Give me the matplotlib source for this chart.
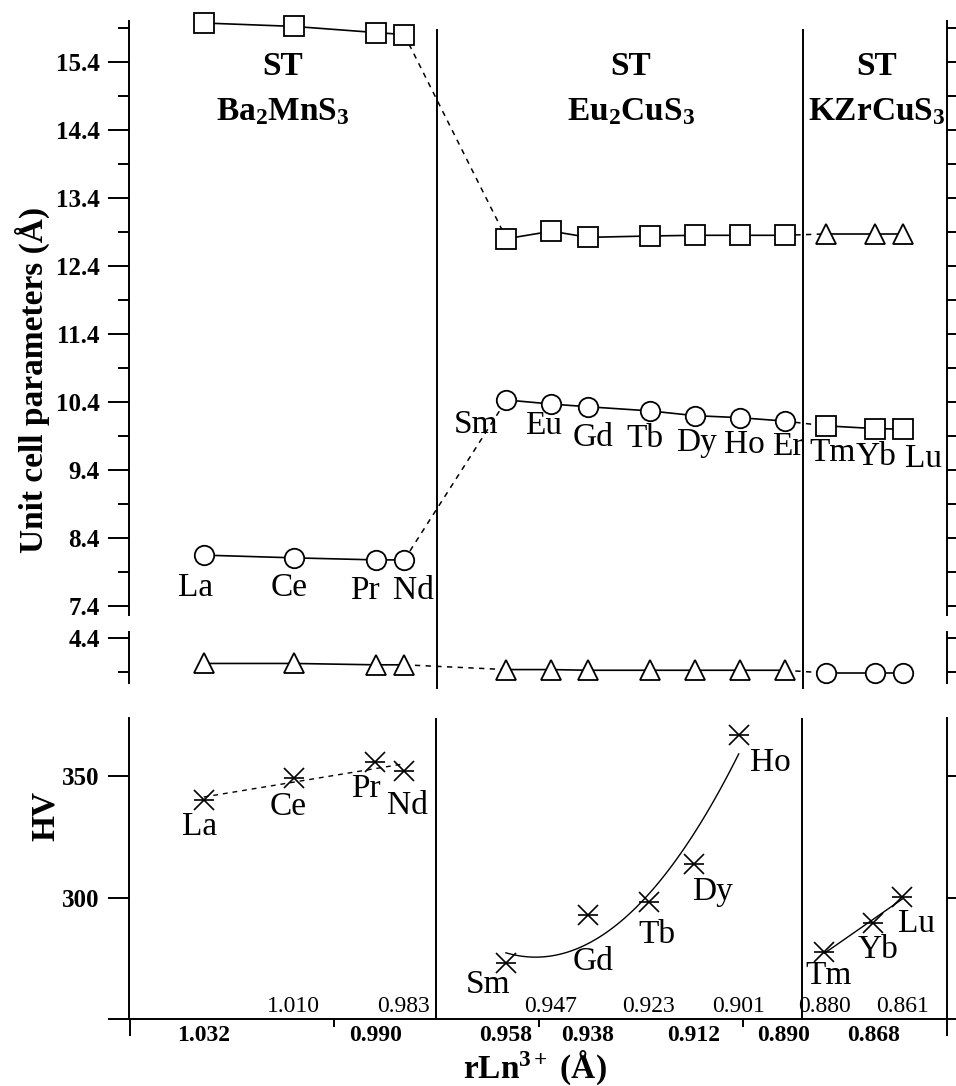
import numpy as np
import matplotlib.pyplot as plt

plt.rcParams['font.family'] = 'Liberation Serif'
plt.rcParams['mathtext.fontset'] = 'custom'
plt.rcParams['mathtext.rm'] = 'Liberation Serif'
plt.rcParams['mathtext.bf'] = 'Liberation Serif:bold'
plt.rcParams['mathtext.it'] = 'Liberation Serif:italic'

# Ln3+ ionic radii (A), grouped by structure type
ba_el = ['La', 'Ce', 'Pr', 'Nd']
ba_r = [1.032, 1.010, 0.990, 0.983]
eu_el = ['Sm', 'Eu', 'Gd', 'Tb', 'Dy', 'Ho', 'Er']
eu_r = [0.958, 0.947, 0.938, 0.923, 0.912, 0.901, 0.890]
kz_el = ['Tm', 'Yb', 'Lu']
kz_r = [0.880, 0.868, 0.861]

# unit cell parameters (A)
ba_sq = [15.97, 15.92, 15.83, 15.80]
ba_circ = [8.15, 8.11, 8.08, 8.08]
ba_tri = [4.03, 4.03, 4.01, 4.01]
eu_sq = [12.80, 12.91, 12.82, 12.84, 12.85, 12.85, 12.85]
eu_circ = [10.43, 10.37, 10.33, 10.27, 10.20, 10.17, 10.12]
eu_tri = [3.94, 3.94, 3.93, 3.93, 3.93, 3.93, 3.93]
kz_tri = [12.87, 12.87, 12.87]
kz_sq = [10.05, 10.01, 10.00]
kz_circ = [3.89, 3.89, 3.89]

# microhardness HV
hv_ba = [340.2, 349.1, 355.8, 352.1]
hv_eu_el = ['Sm', 'Gd', 'Tb', 'Dy', 'Ho']
hv_eu_r = [0.958, 0.938, 0.923, 0.912, 0.901]
hv_eu = [273.2, 292.9, 298.1, 314.0, 367.0]
hv_kz = [277.7, 289.5, 300.4]

# radii printed along the bottom axis
r_below = [1.032, 0.990, 0.958, 0.938, 0.912, 0.890, 0.868]
r_above = [1.010, 0.983, 0.947, 0.923, 0.901, 0.880, 0.861]

# structure type borders
borders = [0.975, 0.8855]

XL = (1.0503, 0.8503)
LW = 1.4

fig = plt.figure(figsize=(9.56, 10.86), dpi=100)
ax1 = fig.add_axes([0.1349, 0.4337, 0.8557, 0.5470])
ax2 = fig.add_axes([0.1349, 0.3711, 0.8557, 0.0470])
ax3 = fig.add_axes([0.1349, 0.0617, 0.8557, 0.2772])


def series(ax, x, y, marker, ms):
    ax.plot(x, y, '-', color='k', lw=1.2, marker=marker, ms=ms,
            mfc='white', mec='k', mew=1.3, zorder=3, clip_on=False)


def link(ax, x0, y0, x1, y1):
    ax.plot([x0, x1], [y0, y1], color='k', lw=1.1, dashes=(3.5, 3.5),
            zorder=2, clip_on=False)


# upper part
series(ax1, ba_r, ba_sq, 's', 15)
series(ax1, ba_r, ba_circ, 'o', 14)
series(ax1, eu_r, eu_sq, 's', 15)
series(ax1, eu_r, eu_circ, 'o', 14)
series(ax1, kz_r, kz_tri, '^', 14)
series(ax1, kz_r, kz_sq, 's', 15)
link(ax1, ba_r[-1], ba_sq[-1], eu_r[0], eu_sq[0])
link(ax1, ba_r[-1], ba_circ[-1], eu_r[0], eu_circ[0])
link(ax1, eu_r[-1], eu_sq[-1], kz_r[0], kz_tri[0])
link(ax1, eu_r[-1], eu_circ[-1], kz_r[0], kz_sq[0])

# broken part with small cell parameter
series(ax2, ba_r, ba_tri, '^', 14)
series(ax2, eu_r, eu_tri, '^', 14)
series(ax2, kz_r, kz_circ, 'o', 14)
link(ax2, ba_r[-1], ba_tri[-1], eu_r[0], eu_tri[0])
link(ax2, eu_r[-1], eu_tri[-1], kz_r[0], kz_circ[0])

# HV with fitted trends
for x, y, deg, ls in [(ba_r, hv_ba, 1, '--'), (hv_eu_r, hv_eu, 2, '-'), (kz_r, hv_kz, 1, '-')]:
    p = np.polyfit(x, y, deg)
    xx = np.linspace(x[0], x[-1], 100)
    kw = dict(dashes=(3.5, 3.5)) if ls == '--' else {}
    ax3.plot(xx, np.polyval(p, xx), color='k', lw=1.0, zorder=2, **kw)
for x, y in [(ba_r, hv_ba), (hv_eu_r, hv_eu), (kz_r, hv_kz)]:
    ax3.plot(x, y, 'x', color='k', ms=15, mew=1.2, zorder=3)
    ax3.plot(x, y, '_', color='k', ms=15, mew=1.2, zorder=3)

# element labels (offsets in pixels)
lab_top = {'La': (-8, -33), 'Ce': (-5, -30), 'Pr': (-11, -31), 'Nd': (9, -31),
           'Sm': (-30, -25), 'Eu': (-8, -22), 'Gd': (5, -31), 'Tb': (-5, -28),
           'Dy': (2, -27), 'Ho': (5, -27), 'Er': (3, -26),
           'Tm': (7, -27), 'Yb': (1, -28), 'Lu': (20, -30)}
for els, xs, ys in [(ba_el, ba_r, ba_circ), (eu_el, eu_r, eu_circ), (kz_el, kz_r, kz_sq)]:
    for e, x, y in zip(els, xs, ys):
        ax1.annotate(e, (x, y), xytext=lab_top[e], textcoords='offset pixels',
                     ha='center', va='center', fontsize=24)

lab_hv = {'La': (-4, -27), 'Ce': (-5, -28), 'Pr': (-9, -27), 'Nd': (4, -35),
          'Sm': (-18, -22), 'Gd': (5, -47), 'Tb': (8, -33), 'Dy': (19, -28),
          'Ho': (32, -28), 'Tm': (4, -24), 'Yb': (5, -27), 'Lu': (14, -27)}
for els, xs, ys in [(ba_el, ba_r, hv_ba), (hv_eu_el, hv_eu_r, hv_eu), (kz_el, kz_r, hv_kz)]:
    for e, x, y in zip(els, xs, ys):
        ax3.annotate(e, (x, y), xytext=lab_hv[e], textcoords='offset pixels',
                     ha='center', va='center', fontsize=24)

# radii along the axis line
tr = ax3.get_xaxis_transform()
for r in r_below:
    ax3.text(r, -0.054, f'{r:.3f}', transform=tr, ha='center', va='center',
             fontsize=17, fontweight='bold')
for r in r_above:
    ax3.text(r, 0.043, f'{r:.3f}', transform=tr, ha='center', va='center',
             fontsize=17)

# structure type headers
for xc, name in [(1.0127, r'Ba$_\mathbf{2}$MnS$_\mathbf{3}$'),
                 (0.9276, r'Eu$_\mathbf{2}$CuS$_\mathbf{3}$'),
                 (0.8675, r'KZrCuS$_\mathbf{3}$')]:
    ax1.text(xc, 15.33, 'ST', ha='center', va='center', fontsize=24, fontweight='bold')
    ax1.text(xc, 14.67, name, ha='center', va='center', fontsize=24, fontweight='bold')

# borders between structure types
for b in borders:
    ax1.axvline(b, ymin=-0.1229, ymax=0.9848, color='k', lw=LW, clip_on=False, zorder=1)
    ax3.axvline(b, color='k', lw=LW, zorder=1)

# axes styling
for ax in (ax1, ax2, ax3):
    ax.set_xlim(*XL)
    ax.patch.set_visible(False)
    ax.spines['top'].set_visible(False)
    for s in ax.spines.values():
        s.set_linewidth(LW)
for ax in (ax1, ax2):
    ax.spines['bottom'].set_visible(False)
    ax.set_xticks([])

ax1.set_ylim(7.27, 16.0)
maj1 = np.round(np.arange(7.4, 15.41, 1.0), 1)
ax1.set_yticks(maj1)
ax1.set_yticklabels([f'{v:.1f}' for v in maj1], fontweight='bold')
ax1.set_yticks(np.round(maj1 + 0.5, 1), minor=True)

ax2.set_ylim(3.743, 4.493)
ax2.set_yticks([4.4])
ax2.set_yticklabels(['4.4'], fontweight='bold')
ax2.set_yticks([3.9], minor=True)

ax3.set_ylim(250, 374)
ax3.set_yticks([250, 300, 350])
ax3.set_yticklabels(['', '300', '350'], fontweight='bold')
ax3.set_xticks([1.05, 1.00, 0.95, 0.90, 0.85])
ax3.set_xticklabels([])
ax3.tick_params(axis='x', direction='out', length=12, width=LW)

for ax in (ax1, ax2, ax3):
    ax.tick_params(axis='y', which='both', left=True, right=True, direction='out',
                   width=LW, labelsize=18, pad=6)
    ax.tick_params(axis='y', which='major', length=15)
    ax.tick_params(axis='y', which='minor', length=8)
    for t in ax.yaxis.get_major_ticks():
        t.tick2line.set_markersize(8)
for i, t in enumerate(ax3.xaxis.get_major_ticks()):
    if 0 < i < 4:
        t.tick1line.set_markersize(6)

fig.text(32 / 956, 1 - 380 / 1086, 'Unit cell parameters (Å)', rotation=90,
         ha='center', va='center', fontsize=24, fontweight='bold')
fig.text(45 / 956, 1 - 816 / 1086, 'HV', rotation=90,
         ha='center', va='center', fontsize=24, fontweight='bold')
fig.text(535 / 956, 1 - 1068 / 1086, r'rLn$^{\mathbf{3+}}$ (Å)',
         ha='center', va='center', fontsize=24, fontweight='bold')

fig.savefig('out.png', dpi=100)
